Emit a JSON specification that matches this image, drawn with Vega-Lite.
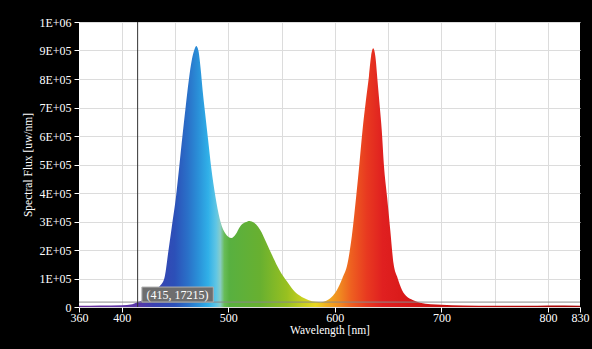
{
  "$schema": "https://vega.github.io/schema/vega-lite/v6.json",
  "width": 501,
  "height": 285,
  "autosize": {"type": "none"},
  "padding": {"left": 79, "top": 22, "right": 12, "bottom": 42},
  "background": "#000000",
  "view": {"fill": "#ffffff", "stroke": null},
  "config": {
    "font": "Liberation Serif",
    "axis": {
      "labelFont": "Liberation Serif",
      "titleFont": "Liberation Serif",
      "labelColor": "#ffffff",
      "titleColor": "#ffffff",
      "tickColor": "#ffffff",
      "domain": false,
      "gridColor": "#dcdcdc",
      "gridWidth": 1,
      "labelFontSize": 12,
      "titleFontSize": 11.5,
      "titleFontWeight": "normal",
      "labelOverlap": false,
      "labelFlush": false,
      "tickSize": 5
    }
  },
  "datasets": {
    "spectrum": [
      {"wl": 360, "flux": 4000}, {"wl": 380, "flux": 5000}, {"wl": 400, "flux": 6000},
      {"wl": 410, "flux": 10000}, {"wl": 415, "flux": 17215}, {"wl": 420, "flux": 25000},
      {"wl": 425, "flux": 35000}, {"wl": 430, "flux": 50000}, {"wl": 435, "flux": 70000},
      {"wl": 440, "flux": 100000}, {"wl": 444, "flux": 200000}, {"wl": 447, "flux": 280000},
      {"wl": 451, "flux": 387000}, {"wl": 454, "flux": 490000}, {"wl": 457, "flux": 598000},
      {"wl": 460, "flux": 700000}, {"wl": 463, "flux": 796000}, {"wl": 466, "flux": 870000},
      {"wl": 468, "flux": 900000}, {"wl": 470, "flux": 916000}, {"wl": 472, "flux": 900000},
      {"wl": 474, "flux": 840000}, {"wl": 476, "flux": 760000}, {"wl": 478, "flux": 690000},
      {"wl": 481, "flux": 590000}, {"wl": 484, "flux": 490000}, {"wl": 488, "flux": 387000},
      {"wl": 492, "flux": 310000}, {"wl": 497, "flux": 260000}, {"wl": 503, "flux": 242000},
      {"wl": 507, "flux": 255000}, {"wl": 511, "flux": 282000}, {"wl": 516, "flux": 297000},
      {"wl": 520, "flux": 302000}, {"wl": 522, "flux": 300000}, {"wl": 526, "flux": 290000},
      {"wl": 530, "flux": 270000}, {"wl": 536, "flux": 224000}, {"wl": 542, "flux": 175000},
      {"wl": 548, "flux": 130000}, {"wl": 555, "flux": 90000}, {"wl": 561, "flux": 60000},
      {"wl": 567, "flux": 40000}, {"wl": 575, "flux": 25000}, {"wl": 582, "flux": 18000},
      {"wl": 587, "flux": 17000}, {"wl": 592, "flux": 22000}, {"wl": 597, "flux": 35000},
      {"wl": 602, "flux": 60000}, {"wl": 607, "flux": 100000}, {"wl": 612, "flux": 154000},
      {"wl": 616, "flux": 250000}, {"wl": 620, "flux": 387000}, {"wl": 623, "flux": 500000},
      {"wl": 626, "flux": 621000}, {"wl": 629, "flux": 720000}, {"wl": 632, "flux": 810000},
      {"wl": 634, "flux": 880000}, {"wl": 636, "flux": 908000}, {"wl": 638, "flux": 880000},
      {"wl": 640, "flux": 796000}, {"wl": 642, "flux": 710000}, {"wl": 644, "flux": 621000},
      {"wl": 646, "flux": 500000}, {"wl": 649, "flux": 387000}, {"wl": 652, "flux": 270000},
      {"wl": 655, "flux": 154000}, {"wl": 659, "flux": 100000}, {"wl": 663, "flux": 60000},
      {"wl": 668, "flux": 35000}, {"wl": 673, "flux": 25000}, {"wl": 680, "flux": 15000},
      {"wl": 690, "flux": 10000}, {"wl": 700, "flux": 8000}, {"wl": 720, "flux": 5000},
      {"wl": 750, "flux": 4000}, {"wl": 780, "flux": 4000}, {"wl": 800, "flux": 5000},
      {"wl": 830, "flux": 4000}
    ],
    "cursor": [{"wl": 415, "flux": 17215, "label": "(415, 17215)", "x1": 419, "x2": 486, "y1": 17500, "y2": 70000, "ym": 43000, "xm": 452.5}]
  },
  "encoding": {
    "x": {
      "field": "wl", "type": "quantitative",
      "scale": {"domain": [360, 830], "nice": false, "zero": false},
      "axis": {
        "title": "Wavelength [nm]",
        "titlePadding": 1,
        "values": [360, 400, 450, 500, 550, 600, 650, 700, 750, 800, 830],
        "labelExpr": "datum.value % 100 == 50 ? '' : datum.label",
        "labelPadding": 0,
        "tickOpacity": {"condition": {"test": "datum.value % 100 == 50", "value": 0}, "value": 1},
        "gridOpacity": {"condition": {"test": "datum.value == 360 || datum.value == 830", "value": 0}, "value": 1}
      }
    },
    "y": {
      "field": "flux", "type": "quantitative",
      "scale": {"domain": [0, 1000000], "nice": false},
      "axis": {
        "title": "Spectral Flux [uw/nm]",
        "titlePadding": 5,
        "values": [0, 100000, 200000, 300000, 400000, 500000, 600000, 700000, 800000, 900000, 1000000],
        "labelExpr": "datum.value == 0 ? '0' : (datum.value >= 1000000 ? '1E+06' : round(datum.value / 100000) + 'E+05')",
        "labelPadding": 3
      }
    }
  },
  "layer": [
    {
      "data": {"name": "spectrum"},
      "mark": {
        "type": "area",
        "interpolate": "monotone",
        "fill": {
          "gradient": "linear",
          "x1": 0, "x2": 1, "y1": 0, "y2": 0,
          "stops": [
            {"offset": 0, "color": "#6a2c9a"},
            {"offset": 0.117, "color": "#5a38a8"},
            {"offset": 0.149, "color": "#3a40b0"},
            {"offset": 0.191, "color": "#2c50b8"},
            {"offset": 0.217, "color": "#2a70c8"},
            {"offset": 0.238, "color": "#2a90d8"},
            {"offset": 0.258, "color": "#30b0e8"},
            {"offset": 0.274, "color": "#60c6e4"},
            {"offset": 0.282, "color": "#88ccc8"},
            {"offset": 0.29, "color": "#68bc58"},
            {"offset": 0.3, "color": "#58b040"},
            {"offset": 0.362, "color": "#68b030"},
            {"offset": 0.415, "color": "#98c020"},
            {"offset": 0.447, "color": "#c8d020"},
            {"offset": 0.472, "color": "#e8d820"},
            {"offset": 0.494, "color": "#f0b020"},
            {"offset": 0.521, "color": "#f08820"},
            {"offset": 0.543, "color": "#ee6020"},
            {"offset": 0.574, "color": "#e83a20"},
            {"offset": 0.606, "color": "#e02020"},
            {"offset": 0.66, "color": "#d81818"},
            {"offset": 0.723, "color": "#c81010"},
            {"offset": 1, "color": "#a00000"}
          ]
        }
      }
    },
    {
      "data": {"name": "cursor"},
      "mark": {"type": "rule", "color": "#888888", "strokeWidth": 1},
      "encoding": {"x": null}
    },
    {
      "data": {"name": "cursor"},
      "mark": {"type": "rule", "color": "#333333", "strokeWidth": 1},
      "encoding": {"y": null}
    },
    {
      "data": {"name": "cursor"},
      "mark": {"type": "rect", "fill": "#6e6e6e", "stroke": "#b0b0b0", "strokeWidth": 1},
      "encoding": {
        "x": {"field": "x1", "type": "quantitative", "axis": {"title": "Wavelength [nm]", "titlePadding": 1, "values": [360, 400, 450, 500, 550, 600, 650, 700, 750, 800, 830], "labelExpr": "datum.value % 100 == 50 ? '' : datum.label", "labelPadding": 0, "tickOpacity": {"condition": {"test": "datum.value % 100 == 50", "value": 0}, "value": 1}, "gridOpacity": {"condition": {"test": "datum.value == 360 || datum.value == 830", "value": 0}, "value": 1}}},
        "x2": {"field": "x2"},
        "y": {"field": "y1", "type": "quantitative", "axis": {"title": "Spectral Flux [uw/nm]", "titlePadding": 5, "values": [0, 100000, 200000, 300000, 400000, 500000, 600000, 700000, 800000, 900000, 1000000], "labelExpr": "datum.value == 0 ? '0' : (datum.value >= 1000000 ? '1E+06' : round(datum.value / 100000) + 'E+05')", "labelPadding": 3}},
        "y2": {"field": "y2"}
      }
    },
    {
      "data": {"name": "cursor"},
      "mark": {"type": "text", "color": "#ffffff", "fontSize": 12, "font": "Liberation Serif", "align": "center", "baseline": "middle"},
      "encoding": {
        "x": {"field": "xm", "type": "quantitative", "axis": {"title": "Wavelength [nm]", "titlePadding": 1, "values": [360, 400, 450, 500, 550, 600, 650, 700, 750, 800, 830], "labelExpr": "datum.value % 100 == 50 ? '' : datum.label", "labelPadding": 0, "tickOpacity": {"condition": {"test": "datum.value % 100 == 50", "value": 0}, "value": 1}, "gridOpacity": {"condition": {"test": "datum.value == 360 || datum.value == 830", "value": 0}, "value": 1}}},
        "y": {"field": "ym", "type": "quantitative", "axis": {"title": "Spectral Flux [uw/nm]", "titlePadding": 5, "values": [0, 100000, 200000, 300000, 400000, 500000, 600000, 700000, 800000, 900000, 1000000], "labelExpr": "datum.value == 0 ? '0' : (datum.value >= 1000000 ? '1E+06' : round(datum.value / 100000) + 'E+05')", "labelPadding": 3}},
        "text": {"field": "label"}
      }
    }
  ]
}
